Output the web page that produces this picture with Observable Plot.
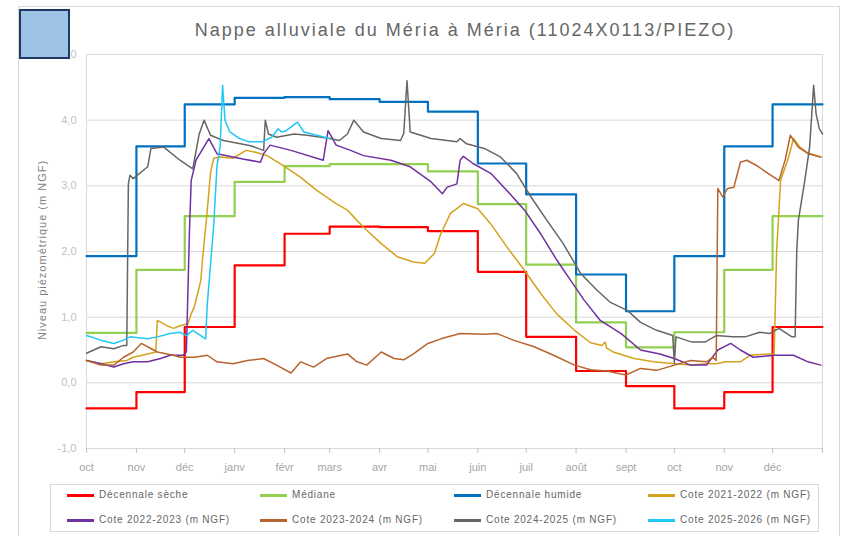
<!DOCTYPE html>
<html><head><meta charset="utf-8">
<script src="https://cdn.jsdelivr.net/npm/d3@7"></script>
<script src="https://cdn.jsdelivr.net/npm/@observablehq/plot@0.6"></script>
<style>
body{margin:0;background:#fff;font-family:"Liberation Sans",Arial,sans-serif;}
#wrap{position:relative;width:851px;height:536px;overflow:hidden;background:#fff;}
#chart{position:absolute;left:0;top:0;}
#outer{position:absolute;left:18px;top:6px;width:822px;height:540px;border:1px solid #d9d9d9;box-sizing:border-box;}
#square{position:absolute;left:19px;top:9px;width:51px;height:50px;background:#9DC3E6;border:2px solid #1F3864;box-sizing:border-box;}
#title{position:absolute;left:465px;top:20px;transform:translateX(-50%);white-space:nowrap;font-size:18px;letter-spacing:2px;color:#666666;line-height:20px;}
#ytitle{position:absolute;left:42px;top:250px;transform:translate(-50%,-50%) rotate(-90deg);white-space:nowrap;font-size:11px;letter-spacing:1px;color:#7f7f7f;}
#legend{position:absolute;left:50px;top:484px;width:769px;height:48px;border:1px solid #d9d9d9;box-sizing:border-box;}
.li{position:absolute;font-size:10px;letter-spacing:0.8px;color:#666666;white-space:nowrap;line-height:12px;}
.sw{position:absolute;height:3px;width:27px;}
svg g[aria-label="y-axis tick label"]{color:#bfbfbf;}
svg g[aria-label="x-axis tick label"]{color:#a6a6a6;}
svg g[aria-label="x-axis tick"]{color:#bfbfbf;}
</style></head><body>
<div id="wrap">
  <div id="outer"></div>
  <div id="chart"></div>
  <div id="square"></div>
  <div id="title">Nappe alluviale du Méria à Méria (11024X0113/PIEZO)</div>
  <div id="ytitle">Niveau piézométrique (m NGF)</div>
  <div id="legend"></div>
</div>
<script>
// Month labels (hydrological axis: Oct -> Dec of following year)
const monthLabels = ["oct","nov","déc","janv","févr","mars","avr","mai","juin","juil","août","sept","oct","nov","déc"];
// Monthly statistics (m NGF)
const decennaleSeche  = [-0.39,-0.14,0.85,1.79,2.27,2.38,2.37,2.31,1.69,0.70,0.18,-0.05,-0.39,-0.14,0.85];
const mediane         = [0.76,1.72,2.54,3.06,3.30,3.33,3.33,3.22,2.72,1.80,0.92,0.54,0.77,1.72,2.54];
const decennaleHumide = [1.93,3.60,4.24,4.34,4.35,4.32,4.28,4.13,3.34,2.87,1.65,1.09,1.93,3.60,4.24];
const yTicks = [-1,0,1,2,3,4,5];

// Daily records: [day since 1 October, level m NGF]
const cote2122 = [[0,0.34],[9,0.29],[17,0.32],[25,0.34],[29,0.39],[38,0.44],[43,0.47],[44,0.95],[50,0.87],[54,0.83],[58,0.87],[63,0.90],[65,1.05],[67,1.16],[69,1.36],[71,1.56],[72,1.87],[75,2.63],[77,3.20],[79,3.42],[83,3.44],[91,3.42],[99,3.54],[105,3.51],[112,3.46],[122,3.31],[133,3.13],[143,2.93],[155,2.73],[162,2.63],[172,2.37],[183,2.12],[193,1.92],[203,1.84],[210,1.82],[216,1.97],[220,2.27],[226,2.58],[234,2.73],[243,2.65],[251,2.42],[261,2.07],[272,1.71],[282,1.36],[292,1.05],[303,0.80],[313,0.61],[320,0.57],[322,0.62],[323,0.53],[327,0.47],[340,0.37],[352,0.32],[365,0.29],[375,0.27],[385,0.29],[391,0.29],[397,0.32],[406,0.32],[412,0.42],[418,0.43],[425,0.44],[427,0.44],[428.5,2.0],[431,3.08],[436,3.44],[439,3.72],[443,3.59],[448,3.50],[456,3.44]];
const cote2223 = [[0,0.34],[9,0.29],[17,0.24],[23,0.29],[29,0.32],[38,0.32],[46,0.37],[52,0.42],[60,0.42],[62,0.47],[64,2.37],[65,3.08],[68,3.39],[76,3.72],[81,3.49],[97,3.41],[108,3.36],[110,3.49],[114,3.62],[127,3.54],[147,3.39],[150,3.84],[155,3.62],[164,3.54],[172,3.46],[189,3.39],[201,3.29],[214,3.06],[221,2.88],[224,2.98],[230,3.03],[232,3.39],[234,3.45],[240,3.34],[251,3.19],[261,2.93],[272,2.63],[282,2.27],[292,1.87],[302,1.51],[309,1.26],[319,0.95],[332,0.75],[344,0.50],[356,0.44],[365,0.37],[375,0.27],[385,0.27],[392,0.50],[400,0.60],[406,0.50],[414,0.39],[427,0.42],[439,0.42],[448,0.32],[456,0.27]];
const cote2324 = [[0,0.34],[9,0.27],[17,0.27],[23,0.39],[29,0.47],[34,0.60],[38,0.55],[44,0.47],[54,0.42],[58,0.39],[67,0.39],[75,0.42],[81,0.32],[91,0.29],[100,0.34],[110,0.37],[118,0.27],[127,0.15],[133,0.32],[141,0.24],[149,0.37],[162,0.44],[168,0.32],[174,0.27],[183,0.47],[191,0.37],[197,0.35],[203,0.44],[212,0.60],[220,0.67],[232,0.75],[247,0.74],[255,0.75],[265,0.65],[278,0.55],[290,0.42],[303,0.27],[313,0.20],[323,0.18],[335,0.12],[344,0.22],[354,0.19],[365,0.27],[375,0.34],[385,0.32],[389,0.39],[391,0.34],[392,2.96],[395,2.83],[398,2.96],[402,2.98],[406,3.36],[410,3.39],[416,3.31],[422,3.21],[430,3.08],[434,3.41],[437,3.77],[442,3.59],[448,3.49],[456,3.44]];
const cote2425 = [[0,0.45],[9,0.55],[17,0.52],[23,0.57],[25,0.57],[26,3.03],[27,3.16],[29,3.11],[38,3.29],[40,3.57],[48,3.59],[58,3.39],[66,3.26],[70,3.79],[73,4.00],[77,3.77],[85,3.69],[102,3.61],[110,3.54],[111,4.00],[113,3.79],[118,3.74],[129,3.79],[137,3.77],[151,3.72],[157,3.69],[162,3.79],[166,4.00],[172,3.82],[183,3.72],[195,3.69],[197,3.80],[199,4.60],[201,3.82],[214,3.72],[230,3.67],[232,3.72],[236,3.64],[247,3.57],[257,3.44],[267,3.19],[276,2.83],[286,2.47],[296,2.12],[307,1.66],[317,1.41],[325,1.23],[336,1.10],[344,0.92],[354,0.80],[364,0.72],[365,0.30],[366,0.70],[376,0.62],[384,0.62],[391,0.72],[401,0.70],[409,0.70],[418,0.77],[424,0.75],[430,0.83],[438,0.70],[440,0.70],[441,2.0],[442,2.47],[446,3.08],[449,3.59],[451.5,4.53],[453,4.10],[455,3.87],[457,3.79]];
const cote2526 = [[0,0.72],[9,0.65],[17,0.60],[23,0.65],[27,0.70],[38,0.67],[44,0.70],[52,0.75],[58,0.77],[62,0.72],[66,0.80],[74,0.67],[75,1.2],[79,2.4],[81,3.3],[83,3.6],[84.5,4.53],[86,4.0],[89,3.82],[95,3.72],[101,3.67],[109,3.67],[115,3.74],[119,3.87],[121,3.82],[124,3.84],[131,3.97],[135,3.82],[143,3.77],[151,3.72]];

const start = new Date(Date.UTC(2024, 9, 1));
const end = new Date(Date.UTC(2026, 0, 1));
const monthStarts = d3.utcMonth.range(start, end);

function stepRows(values, name) {
  const rows = values.map((v, i) => ({date: monthStarts[i], value: v, name}));
  rows.push({date: end, value: values[values.length - 1], name});
  return rows;
}
function dailyRows(pairs, name) {
  return pairs.map(([d, v]) => ({date: new Date(start.getTime() + d * 864e5), value: v, name}));
}

const series = [
  {name: "Décennale sèche", color: "#FF0000", rows: stepRows(decennaleSeche), w: 2.2, step: true},
  {name: "Médiane", color: "#92D050", rows: stepRows(mediane), w: 2.2, step: true},
  {name: "Décennale humide", color: "#0070C0", rows: stepRows(decennaleHumide), w: 2.2, step: true},
  {name: "Cote 2021-2022 (m NGF)", color: "#D4A21C", rows: dailyRows(cote2122), w: 1.5},
  {name: "Cote 2022-2023 (m NGF)", color: "#7030A0", rows: dailyRows(cote2223), w: 1.5},
  {name: "Cote 2023-2024 (m NGF)", color: "#B8642E", rows: dailyRows(cote2324), w: 1.5},
  {name: "Cote 2024-2025 (m NGF)", color: "#666666", rows: dailyRows(cote2425), w: 1.5},
  {name: "Cote 2025-2026 (m NGF)", color: "#1FC8F5", rows: dailyRows(cote2526), w: 1.5}
];

const fmtY = d => d.toFixed(1).replace(".", ",");
const plot = Plot.plot({
  width: 851, height: 536,
  marginLeft: 86, marginRight: 29, marginTop: 54, marginBottom: 88,
  style: {fontFamily: "Liberation Sans, Arial, sans-serif", background: "transparent"},
  x: {type: "utc", domain: [start, end]},
  y: {domain: [-1, 5]},
  marks: [
    Plot.gridY(yTicks, {stroke: "#d9d9d9", strokeOpacity: 1, strokeWidth: 1}),
    Plot.frame({stroke: "#d9d9d9"}),
    Plot.axisY(yTicks, {tickSize: 0, tickPadding: 10, tickFormat: fmtY, fontSize: 11, label: null}),
    Plot.axisX(monthStarts.concat([end]), {tickSize: 5, tickPadding: 10, fontSize: 11, label: null,
      tickFormat: d => monthLabels[d3.utcMonth.count(start, d)] ?? ""}),
    ...series.map(s => Plot.line(s.rows, {x: "date", y: "value", stroke: s.color, strokeWidth: s.w,
      curve: s.step ? "step-after" : "linear"}))
  ]
});
document.getElementById("chart").appendChild(plot);

// Legend (HTML, below the plot area)
const legend = document.getElementById("legend");
const colX = [16, 209, 403, 597];
const rowY = [10, 35];
series.forEach((s, i) => {
  const c = i % 4, r = Math.floor(i / 4);
  const sw = document.createElement("div");
  sw.className = "sw";
  sw.style.left = colX[c] + "px";
  sw.style.top = (rowY[r] - 1.5) + "px";
  sw.style.background = s.color;
  legend.appendChild(sw);
  const t = document.createElement("div");
  t.className = "li";
  t.style.left = (colX[c] + 32) + "px";
  t.style.top = (rowY[r] - 6) + "px";
  t.textContent = s.name;
  legend.appendChild(t);
});
</script>
</body></html>
